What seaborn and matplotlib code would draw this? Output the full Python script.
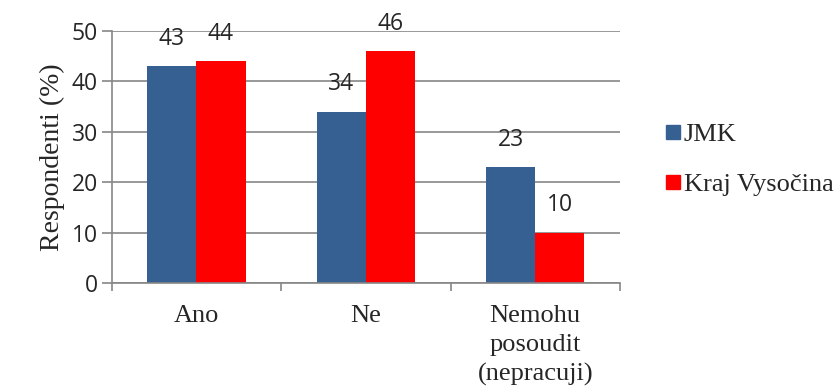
import matplotlib
matplotlib.use("Agg")
import matplotlib.pyplot as plt
import seaborn as sns
import pandas as pd
from matplotlib.lines import Line2D

categories = ["Ano", "Ne", "Nemohu\nposoudit\n(nepracuji)"]
series = ["JMK", "Kraj Vysočina"]
jmk = [43, 34, 23]
vysocina = [44, 46, 10]
colors = ["#376092", "#FF0000"]
yticks = [0, 10, 20, 30, 40, 50]

df = pd.DataFrame({
    "cat": categories * 2,
    "series": [series[0]] * 3 + [series[1]] * 3,
    "val": jmk + vysocina,
})

sns.set_style("white")
fig = plt.figure(figsize=(8.4, 3.89), dpi=100)
ax = fig.add_axes([0.133, 0.2725, 0.605, 0.6475])

sns.barplot(data=df, x="cat", y="val", hue="series", palette=colors,
            width=0.58, ax=ax, legend=False, saturation=1, edgecolor="none")

grid_c = "#868686"
ax.set_ylim(0, 50)
ax.set_xlim(-0.5, 2.5)
ax.set_yticks(yticks)
ax.yaxis.grid(True, color=grid_c, linewidth=1.2)
ax.set_axisbelow(True)
for s in ["top", "right"]:
    ax.spines[s].set_visible(False)
for s in ["left", "bottom"]:
    ax.spines[s].set_color(grid_c)
    ax.spines[s].set_linewidth(1.2)

num_font = ["Open Sans", "DejaVu Sans"]
serif = ["Liberation Serif", "DejaVu Serif"]
ax.tick_params(axis="y", length=7, width=1.2, color=grid_c, labelsize=16.5, pad=3, left=True)
for lab in ax.get_yticklabels():
    lab.set_family(num_font)
ax.set_xticks([0, 1, 2])
ax.set_xticklabels(categories, family=serif, fontsize=19, linespacing=1.4)
ax.tick_params(axis="x", which="major", length=0, pad=16)
ax.set_xticks([-0.5, 0.5, 1.5, 2.5], minor=True)
ax.tick_params(axis="x", which="minor", length=6, width=1.2, color=grid_c, bottom=True)
ax.set_xlabel("")
ax.set_ylabel("Respondenti (%)", family=serif, fontsize=20, labelpad=5)

for cont in ax.containers:
    for bar in cont:
        h = bar.get_height()
        ax.annotate(f"{h:.0f}", (bar.get_x() + bar.get_width() / 2, h),
                    xytext=(0, 11), textcoords="offset points",
                    ha="center", va="bottom", fontsize=16.5, family=num_font)

handles = [Line2D([], [], marker="s", linestyle="none", markersize=10,
                  markerfacecolor=c, markeredgecolor=c) for c in colors]
leg = fig.legend(handles, series, loc="center left", bbox_to_anchor=(0.792, 0.59),
                 frameon=False, prop={"family": serif, "size": 19},
                 handlelength=0.55, handletextpad=0.15, labelspacing=1.0,
                 borderpad=0, borderaxespad=0)

fig.savefig("out.png", dpi=100)
